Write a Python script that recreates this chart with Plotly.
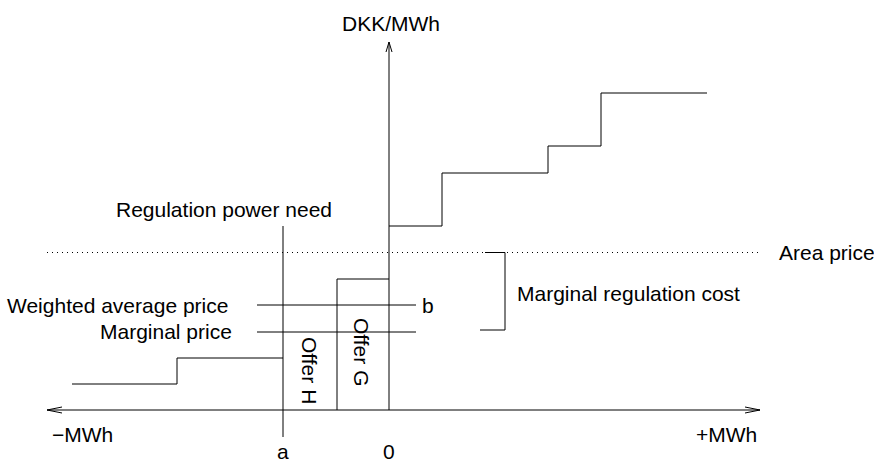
import plotly.graph_objects as go

# schematic units: x = MWh (0 at vertical axis), y = DKK/MWh (0 at horizontal axis)
up_x = [0, 5.3, 5.3, 15.9, 15.9, 21.2, 21.2, 31.8]
up_y = [18.4, 18.4, 23.7, 23.7, 26.4, 26.4, 31.7, 31.7]

down_x = [-31.7, -21.2, -21.2, -10.6]
down_y = [2.6, 2.6, 5.2, 5.2]

offer_g_x = [-5.2, -5.2, 0]
offer_g_y = [0, 13.1, 13.1]

need_x = -10.6
need_y = [-2.7, 18.4]

area_price = 15.75
weighted_avg_price = 10.5
marginal_price = 7.8
price_span = [-13.2, 2.7]

bracket_x = [9.6, 11.6, 11.6, 9.1]
bracket_y = [15.75, 15.75, 8.0, 8.0]

x_axis_span = [-34.2, 37.1]
y_axis_top = 36.8

# label text, x, y, xanchor, yanchor, angle
labels = [
    ("DKK/MWh", 0.2, 38.7, "center", "middle", 0),
    ("Regulation power need", -16.5, 20.1, "center", "middle", 0),
    ("Weighted average price", -15.9, 10.5, "right", "middle", 0),
    ("Marginal price", -15.5, 7.9, "right", "middle", 0),
    ("b", 3.9, 10.5, "center", "middle", 0),
    ("Area price", 38.8, 15.8, "left", "middle", 0),
    ("Marginal regulation cost", 12.6, 11.7, "left", "middle", 0),
    ("Offer H", -7.9, 4.0, "center", "middle", 90),
    ("Offer G", -2.7, 5.8, "center", "middle", 90),
    ("\u2212MWh", -33.9, -2.4, "left", "middle", 0),
    ("+MWh", 37.0, -2.4, "right", "middle", 0),
    ("a", need_x, -5.5, "center", "bottom", 0),
    ("0", 0, -5.5, "center", "bottom", 0),
]

black = dict(color="black", width=1)

fig = go.Figure()

def seg(xs, ys, line=black):
    fig.add_trace(go.Scatter(x=xs, y=ys, mode="lines", line=line,
                             showlegend=False, hoverinfo="skip"))

# axes with open arrow heads
seg(x_axis_span, [0, 0])
seg([x_axis_span[0] + 1.5, x_axis_span[0], x_axis_span[0] + 1.5], [0.3, 0, -0.3])
seg([x_axis_span[1] - 1.5, x_axis_span[1], x_axis_span[1] - 1.5], [0.3, 0, -0.3])
seg([0, 0], [0, y_axis_top])
seg([-0.3, 0, 0.3], [y_axis_top - 1.0, y_axis_top, y_axis_top - 1.0])

# offer curves
seg(up_x, up_y)
seg(down_x, down_y)
seg(offer_g_x, offer_g_y)

# regulation need
seg([need_x, need_x], need_y)

# price lines
seg(x_axis_span, [area_price, area_price], dict(color="black", width=1, dash="1px,4px"))
seg(price_span, [weighted_avg_price, weighted_avg_price])
seg(price_span, [marginal_price, marginal_price])

# bracket
seg(bracket_x, bracket_y)

for text, x, y, xa, ya, ang in labels:
    fig.add_annotation(x=x, y=y, text=text, showarrow=False, xanchor=xa,
                       yanchor=ya, textangle=ang,
                       font=dict(family="Liberation Sans, Arial, sans-serif", size=21, color="black"))

fig.update_xaxes(visible=False, range=[-38.9, 48.5])
fig.update_yaxes(visible=False, range=[-5.6, 41.0])
fig.update_layout(width=874, height=466, margin=dict(l=0, r=0, t=0, b=0, pad=0),
                  plot_bgcolor="white", paper_bgcolor="white", template="simple_white")

# drop the default page margin so the figure fills the window
fig.write_html("out.html", config={"displayModeBar": False},
               post_script="document.body.style.margin='0';")
